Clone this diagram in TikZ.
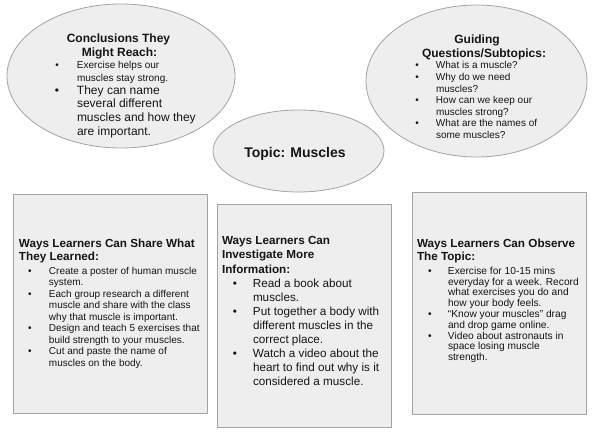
\documentclass[tikz,border=0pt]{standalone}
\usepackage{fontspec}
\setmainfont{Liberation Sans}
\usetikzlibrary{shapes.geometric}
\definecolor{shapefill}{HTML}{EEEEEE}
\definecolor{shapeline}{HTML}{A3A3A3}
\definecolor{txt}{HTML}{151515}
\newlength{\bgap}
\newcommand{\bullline}[1]{\hbox{\makebox[0pt]{\textbullet}\hspace{\bgap}#1}}
\newcommand{\contline}[1]{\hbox{\hspace{\bgap}#1}}
\newcommand{\plainline}[1]{\hbox{#1}}
\newcommand{\linesblock}[4]{\fontsize{#1}{#2}\selectfont\setlength{\bgap}{#3}%
  \vtop{\baselineskip=#2\relax\lineskiplimit=-1000pt\lineskip=0pt #4}}
\newcommand{\headblock}[3]{\fontsize{#1}{#2}\selectfont\bfseries
  \vtop{\baselineskip=#2\relax\lineskiplimit=-1000pt\lineskip=0pt #3}}
\tikzset{
  bubble/.style={ellipse, draw=shapeline, fill=shapefill, line width=0.8pt, inner sep=0pt},
  panel/.style={rectangle, draw=shapeline, fill=shapefill, line width=0.9pt, inner sep=0pt, anchor=north west},
  textblk/.style={inner sep=0pt, outer sep=0pt, anchor=base west, text=txt},
  titletxt/.style={inner sep=0pt, outer sep=0pt, anchor=base, text=txt, font=\fontsize{12}{14}\selectfont\bfseries}
}
\begin{document}
\begin{tikzpicture}[x=1pt,y=-1pt]
\useasboundingbox (0,0) rectangle (600,444);
% shapes
\node[bubble, minimum width=228pt, minimum height=144pt] (e1) at (121,76) {};
\node[bubble, minimum width=221pt, minimum height=152pt] (e2) at (476.5,81) {};
\node[bubble, minimum width=171pt, minimum height=82pt] (e3) at (298.5,151) {};
\node[panel, minimum width=194pt, minimum height=219pt] (b1) at (13,194) {};
\node[panel, minimum width=174pt, minimum height=223pt] (b2) at (217,204) {};
\node[panel, minimum width=174pt, minimum height=222pt] (b3) at (412,192) {};
% conclusions
\node[titletxt] (e1t1) at (118.5,42.7) {Conclusions They};
\node[titletxt] (e1t2) at (119.5,56.7) {Might Reach:};
\node[textblk] (e1l1) at (57,69) {\linesblock{10}{12.7pt}{20pt}{%
  \bullline{Exercise helps our}\contline{muscles stay strong.}}};
\node[textblk] (e1l2) at (57,94.3) {\linesblock{12}{13.6pt}{20pt}{%
  \bullline{They can name}\contline{several different}\contline{muscles and how they}\contline{are important.}}};
% guiding
\node[titletxt] (e2t1) at (477,43.3) {Guiding};
\node[titletxt] (e2t2) at (484,57.3) {Questions/Subtopics:};
\node[textblk] (e2l) at (417,69) {\linesblock{10}{11.6pt}{19pt}{%
  \bullline{What is a muscle?}%
  \bullline{Why do we need}\contline{muscles?}%
  \bullline{How can we keep our}\contline{muscles strong?}%
  \bullline{What are the names of}\contline{some muscles?}}};
% topic
\node[inner sep=0pt, anchor=base, text=txt, font=\fontsize{14}{16}\selectfont\bfseries] (topic) at (295,157) {Topic: Muscles};
% box 1
\node[textblk] (b1h) at (19,247) {\headblock{11.7}{13pt}{%
  \plainline{Ways Learners Can Share What}\plainline{They Learned:}}};
\node[textblk] (b1l) at (30,274) {\linesblock{10}{11.5pt}{19pt}{%
  \bullline{Create a poster of human muscle}\contline{system.}%
  \bullline{Each group research a different}\contline{muscle and share with the class}\contline{why that muscle is important.}%
  \bullline{Design and teach 5 exercises that}\contline{build strength to your muscles.}%
  \bullline{Cut and paste the name of}\contline{muscles on the body.}}};
% box 2
\node[textblk] (b2h) at (222,244) {\headblock{11.7}{14.5pt}{%
  \plainline{Ways Learners Can}\plainline{Investigate More}\plainline{Information:}}};
\node[textblk] (b2l) at (235,287) {\linesblock{11.7}{14pt}{18pt}{%
  \bullline{Read a book about}\contline{muscles.}%
  \bullline{Put together a body with}\contline{different muscles in the}\contline{correct place.}%
  \bullline{Watch a video about the}\contline{heart to find out why is it}\contline{considered a muscle.}}};
% box 3
\node[textblk] (b3h) at (417,247) {\headblock{11.7}{13pt}{%
  \plainline{Ways Learners Can Observe}\plainline{The Topic:}}};
\node[textblk] (b3l) at (430,274.3) {\linesblock{10.2}{10.8pt}{18pt}{%
  \bullline{Exercise for 10-15 mins}\contline{everyday for a week. Record}\contline{what exercises you do and}\contline{how your body feels.}%
  \bullline{“Know your muscles” drag}\contline{and drop game online.}%
  \bullline{Video about astronauts in}\contline{space losing muscle}\contline{strength.}}};
\end{tikzpicture}
\end{document}
